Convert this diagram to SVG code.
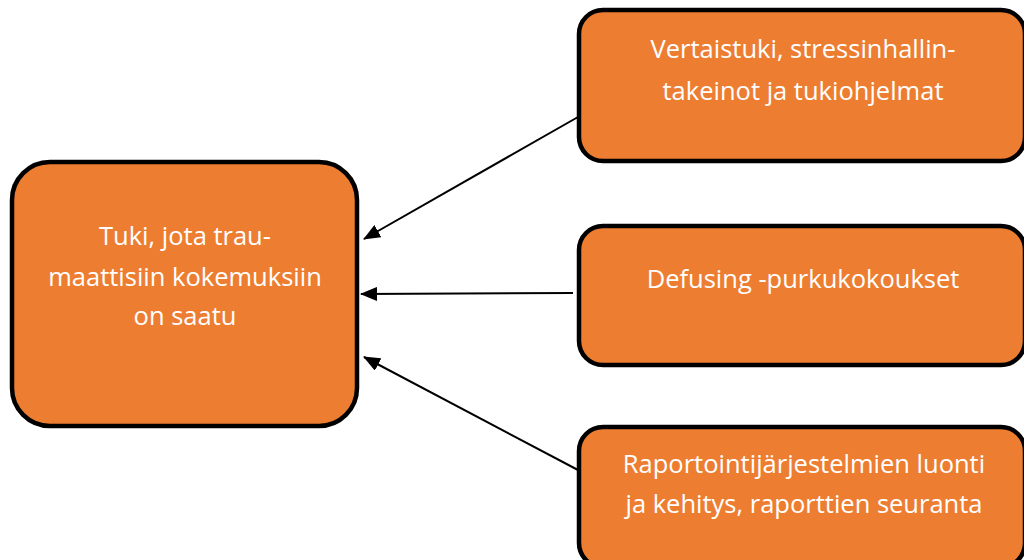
<svg xmlns="http://www.w3.org/2000/svg" width="1024" height="560" viewBox="0 0 1024 560">
<style>
.box{fill:#ED7D31;stroke:#000;stroke-width:4.5}
.t{font-family:"Open Sans","Liberation Sans",sans-serif;font-size:25.5px;fill:#fff;text-anchor:middle}
.c{stroke:#000;stroke-width:2;fill:none;marker-end:url(#ah)}
</style>
<defs>
<marker id="ah" markerWidth="17" markerHeight="14" refX="16" refY="7" orient="auto" markerUnits="userSpaceOnUse" viewBox="0 0 17 14">
<path d="M0,0 L17,7 L0,14 Z" fill="#000"/>
</marker>
</defs>
<rect width="1024" height="560" fill="#fff"/>
<g id="connectors">
<line class="c" x1="578" y1="117" x2="364" y2="239"/>
<line class="c" x1="573" y1="293" x2="361" y2="294"/>
<line class="c" x1="578" y1="470" x2="364" y2="357"/>
</g>
<g id="node-main">
<rect class="box" x="12" y="162" width="345" height="264" rx="38"/>
<text class="t" x="185" y="245">Tuki, jota trau-</text>
<text class="t" x="185" y="286">maattisiin kokemuksiin</text>
<text class="t" x="185" y="325">on saatu</text>
</g>
<g id="node-1">
<rect class="box" x="579" y="10" width="446" height="151" rx="24"/>
<text class="t" x="803" y="58">Vertaistuki, stressinhallin-</text>
<text class="t" x="803" y="100">takeinot ja tukiohjelmat</text>
</g>
<g id="node-2">
<rect class="box" x="579" y="226" width="446" height="139" rx="24"/>
<text class="t" x="803" y="288">Defusing -purkukokoukset</text>
</g>
<g id="node-3">
<rect class="box" x="579" y="427" width="446" height="140" rx="24"/>
<text class="t" x="804" y="473">Raportointijärjestelmien luonti</text>
<text class="t" x="804" y="513">ja kehitys, raporttien seuranta</text>
</g>
</svg>
